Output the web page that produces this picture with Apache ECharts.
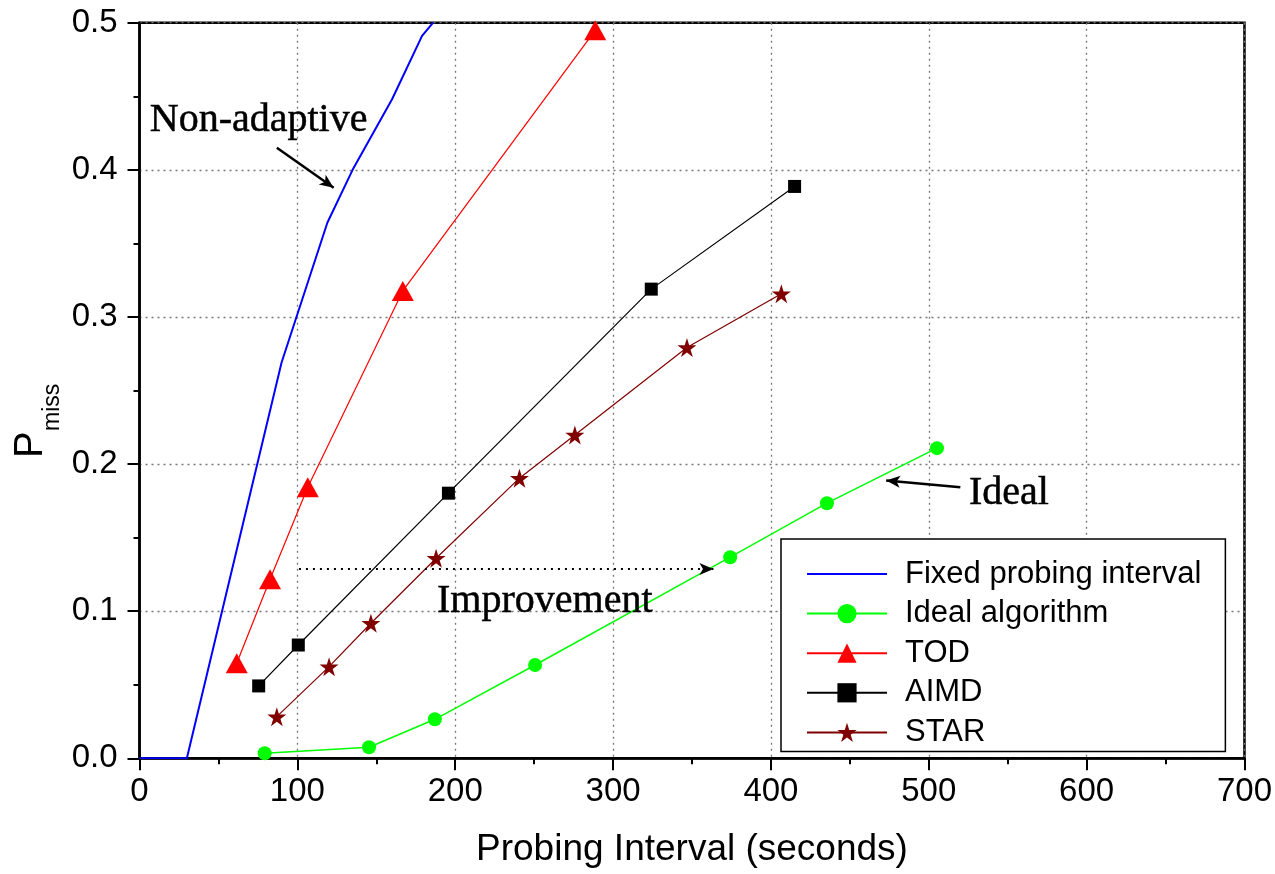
<!DOCTYPE html>
<html>
<head>
<meta charset="utf-8">
<script src="https://cdn.jsdelivr.net/npm/echarts@6/dist/echarts.min.js"></script>
<style>
  html, body { margin: 0; padding: 0; background: #fff; }
  #chart { width: 1275px; height: 874px; }
</style>
</head>
<body>
<div id="chart"></div>
<script>
// data: [probing interval (s), P_miss]
var fixedData = [[0, 0], [30, 0], [90, 0.269], [119, 0.364], [135, 0.4], [160, 0.448], [179, 0.491], [186, 0.5]];
var idealData = [[79.3, 0.0034], [145.4, 0.0075], [187.1, 0.0265], [250.6, 0.0634], [374.2, 0.1367], [435.5, 0.1734], [505.2, 0.2108]];
var todData = [[61.6, 0.0646], [82.7, 0.1217], [106.6, 0.1843], [166.8, 0.3177], [288.7, 0.4948]];
var aimdData = [[75.5, 0.0492], [100.6, 0.077], [195.7, 0.1802], [324.2, 0.3189], [415, 0.3887]];
var starData = [[87, 0.0283], [120.1, 0.0623], [146.6, 0.0918], [187.9, 0.136], [240.7, 0.1904], [275.8, 0.2198], [346.8, 0.2792], [406.6, 0.3157]];

var seriesNames = ["Fixed probing interval", "Ideal algorithm", "TOD", "AIMD", "STAR"];

// annotation texts and arrows (data coordinates)
var noteTexts = [
  { name: "Non-adaptive", value: [6.5, 0.4335] },
  { name: "Improvement", value: [188.5, 0.1065] },
  { name: "Ideal", value: [525.5, 0.1798] }
];
var noteArrows = [
  { from: [87, 0.415], to: [123, 0.3878], dotted: false },
  { from: [520, 0.1842], to: [473, 0.1888], dotted: false },
  { from: [101, 0.1287], to: [363.6, 0.1287], dotted: true }
];

var starPath = "path://M50,0L61.2,34.5L97.6,34.5L68.2,55.9L79.4,90.5L50,69.1L20.6,90.5L31.8,55.9L2.4,34.5L38.8,34.5Z";

var sansFont = "Arial, Liberation Sans";
var serifFont = "Liberation Serif, Times New Roman, serif";

var myChart = echarts.init(document.getElementById("chart"));

var option = {
  animation: false,
  grid: {
    left: 139.5, right: 30, top: 22.7, bottom: 115.7,
    show: true, borderColor: "#000", borderWidth: 2.5
  },
  legend: {
    orient: "vertical",
    left: 781, top: 539,
    padding: [19.5, 24, 3.5, 25],
    itemWidth: 80, itemHeight: 24, itemGap: 8.6,
    borderColor: "#000", borderWidth: 1.5,
    backgroundColor: "#fff",
    textStyle: { fontFamily: sansFont, fontSize: 31, color: "#000", lineHeight: 30, padding: [0, 0, 0, 13] },
    data: [
      { name: seriesNames[0], itemStyle: { opacity: 0 } },
      seriesNames[1], seriesNames[2], seriesNames[3], seriesNames[4]
    ]
  },
  xAxis: {
    type: "value", min: 0, max: 700, interval: 100,
    name: "Probing Interval (seconds)",
    nameLocation: "middle", nameGap: 73,
    nameTextStyle: { fontFamily: sansFont, fontSize: 37, color: "#000" },
    axisLine: { lineStyle: { color: "#000", width: 2.5 } },
    axisTick: { length: 12, lineStyle: { color: "#000", width: 2 } },
    minorTick: { show: true, splitNumber: 2, length: 6, lineStyle: { color: "#000", width: 2 } },
    axisLabel: { fontFamily: sansFont, fontSize: 33, color: "#000", margin: 17 },
    splitLine: { show: true, lineStyle: { color: "#777", type: [2, 4], width: 1.3 } }
  },
  yAxis: {
    type: "value", min: 0, max: 0.5, interval: 0.1,
    axisLine: { lineStyle: { color: "#000", width: 2.5 } },
    axisTick: { length: 12, lineStyle: { color: "#000", width: 2 } },
    minorTick: { show: true, splitNumber: 2, length: 6, lineStyle: { color: "#000", width: 2 } },
    axisLabel: {
      fontFamily: sansFont, fontSize: 33, color: "#000", margin: 22,
      formatter: function (v) { return v.toFixed(1); }
    },
    splitLine: { show: true, lineStyle: { color: "#777", type: [2, 4], width: 1.3 } }
  },
  graphic: [
    { type: "text", x: 31, y: 458, rotation: Math.PI / 2,
      style: { text: "P", font: "40px Arial, Liberation Sans", fill: "#000", align: "left", verticalAlign: "middle" } },
    { type: "text", x: 53, y: 431, rotation: Math.PI / 2,
      style: { text: "miss", font: "23px Arial, Liberation Sans", fill: "#000", align: "left", verticalAlign: "middle" } }
  ],
  series: [
    {
      name: seriesNames[0], type: "line", data: fixedData,
      symbol: "none", color: "#0000ff",
      lineStyle: { color: "#0000ff", width: 2 }, z: 3
    },
    {
      name: seriesNames[1], type: "line", data: idealData,
      symbol: "circle", symbolSize: 14, color: "#00ff00",
      lineStyle: { color: "#00ff00", width: 1.5 }, z: 3
    },
    {
      name: seriesNames[2], type: "line", data: todData,
      symbol: "triangle", symbolSize: [22, 20], color: "#ff0000",
      lineStyle: { color: "#ff0000", width: 1.2 }, z: 3
    },
    {
      name: seriesNames[3], type: "line", data: aimdData,
      symbol: "rect", symbolSize: 13, color: "#000000",
      lineStyle: { color: "#000000", width: 1.2 }, z: 3
    },
    {
      name: seriesNames[4], type: "line", data: starData,
      symbol: starPath, symbolSize: 19, color: "#800000",
      lineStyle: { color: "#800000", width: 1.2 }, z: 3
    },
    {
      name: "notes", type: "scatter", data: noteTexts,
      symbolSize: 0, silent: true, z: 4,
      itemStyle: { opacity: 1 },
      label: {
        show: true, position: "right", distance: 0, formatter: "{b}",
        fontFamily: serifFont, fontSize: 40, color: "#000",
        textBorderColor: "#000", textBorderWidth: 0.5
      },
      markLine: {
        silent: true,
        symbol: ["none", "arrow"], symbolSize: [9, 14],
        label: { show: false },
        data: noteArrows.map(function (a) {
          return [
            { coord: a.from, lineStyle: { color: "#000", width: a.dotted ? 2 : 2.5, type: a.dotted ? [2, 5] : "solid" } },
            { coord: a.to }
          ];
        })
      }
    }
  ]
};

myChart.setOption(option);
</script>
</body>
</html>
